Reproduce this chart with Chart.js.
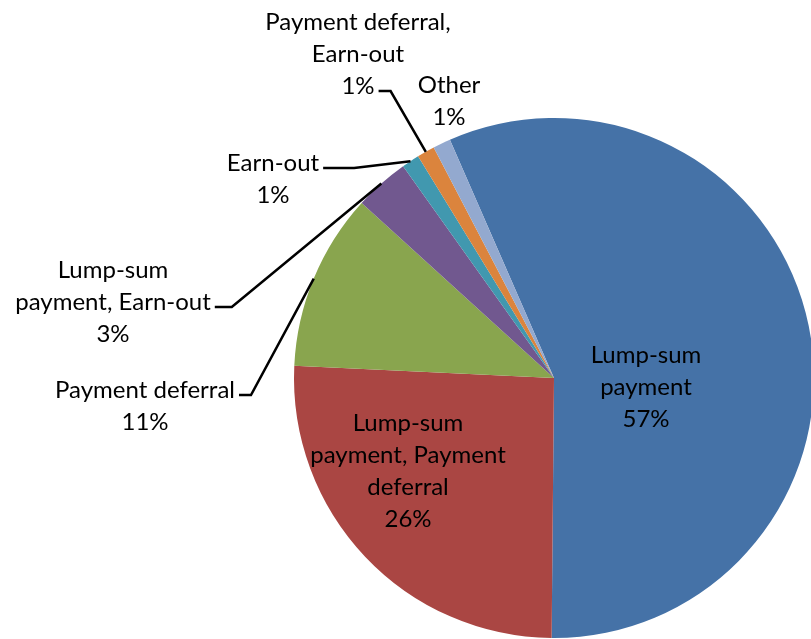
<!DOCTYPE html>
<html lang="en">
<head>
<meta charset="UTF-8">
<title>Payment structure</title>
<script src="https://cdn.jsdelivr.net/npm/chart.js"></script>
<style>
  html, body { margin: 0; padding: 0; background: #fff; overflow: hidden; }
  .wrap { width: 830px; height: 639px; }
</style>
</head>
<body>
<div class="wrap"><canvas id="pie" width="830" height="639"></canvas></div>
<script>
// slices in drawing order (clockwise, starting just left of 12 o'clock)
const categories = [
  'Lump-sum\npayment',
  'Lump-sum\npayment, Payment\ndeferral',
  'Payment deferral',
  'Lump-sum\npayment, Earn-out',
  'Earn-out',
  'Payment deferral,\nEarn-out',
  'Other'
];
const shares = [56.7, 25.6, 11.0, 3.4, 1.1, 1.1, 1.1];
const colors = ['#4572A7', '#AA4643', '#89A54E', '#71588F', '#4198AF', '#DB843D', '#93A9CF'];

// where each label's first line sits relative to the pie centre; leader = line it hangs off + stub length
const labelLayout = [
  { dx: 92, dy: -23 },
  { dx: -146, dy: 45 },
  { dx: -409, dy: 12, leader: { line: 0, stub: 12 } },
  { dx: -441, dy: -108, leader: { line: 1, stub: 17 } },
  { dx: -281, dy: -215, leader: { line: 0, stub: 31 } },
  { dx: -196, dy: -356, leader: { line: 2, stub: 12 } },
  { dx: -105, dy: -293 }
];

const FONT = '24px Lato';
const LINE_H = 32;

const pieLabels = {
  id: 'pieLabels',
  afterDraw(chart) {
    const ctx = chart.ctx;
    const meta = chart.getDatasetMeta(0);
    const total = shares.reduce((a, b) => a + b, 0);
    ctx.save();
    ctx.font = FONT;
    ctx.fillStyle = '#000';
    ctx.strokeStyle = '#000';
    ctx.lineWidth = 2.5;
    ctx.textAlign = 'center';
    ctx.textBaseline = 'middle';

    meta.data.forEach((arc, i) => {
      const p = arc.getProps(['x', 'y', 'startAngle', 'endAngle', 'outerRadius'], true);
      const lay = labelLayout[i];
      const lines = categories[i].split('\n');
      lines.push(Math.round(shares[i] / total * 100) + '%');
      const cx = p.x + lay.dx;
      const top = p.y + lay.dy;
      lines.forEach((t, k) => ctx.fillText(t, cx, top + k * LINE_H));

      if (lay.leader) {
        const t = lines[lay.leader.line];
        const w = ctx.measureText(t).width;
        const sx = cx + w / 2 + 4;
        const sy = top + lay.leader.line * LINE_H + 5;
        const mid = (p.startAngle + p.endAngle) / 2;
        ctx.beginPath();
        ctx.moveTo(sx, sy);
        ctx.lineTo(sx + lay.leader.stub, sy);
        ctx.lineTo(p.x + Math.cos(mid) * p.outerRadius, p.y + Math.sin(mid) * p.outerRadius);
        ctx.stroke();
      }
    });
    ctx.restore();
  }
};

new Chart(document.getElementById('pie'), {
  type: 'pie',
  data: {
    labels: categories.map(c => c.replace(/\n/g, ' ')),
    datasets: [{
      data: shares,
      backgroundColor: colors,
      borderWidth: 0
    }]
  },
  options: {
    responsive: false,
    animation: false,
    rotation: 336.4,
    layout: { padding: { left: 294, right: 16, top: 118, bottom: 1 } },
    plugins: {
      legend: { display: false },
      tooltip: { enabled: false }
    }
  },
  plugins: [pieLabels]
});
</script>
</body>
</html>
